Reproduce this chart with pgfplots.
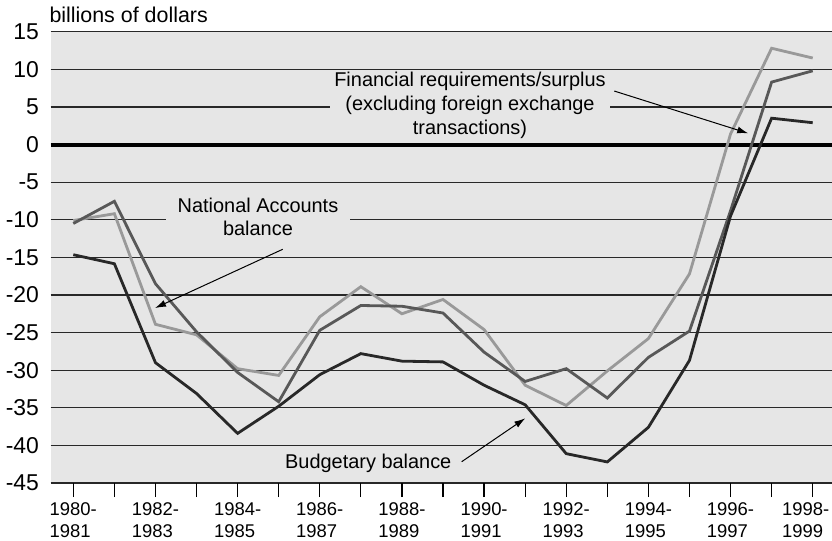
\documentclass[border=0pt]{standalone}
\usepackage{pgfplots}
\pgfplotsset{compat=1.18}
\usepackage{fontspec}
\setmainfont{Liberation Sans}
\usetikzlibrary{arrows.meta}
\definecolor{bg}{RGB}{230,230,230}
\definecolor{grd}{RGB}{40,40,40}
\definecolor{sLight}{RGB}{153,153,153}
\definecolor{sMed}{RGB}{88,88,88}
\definecolor{sDark}{RGB}{40,40,40}
\begin{document}
\begin{tikzpicture}
\begin{axis}[
  at={(50.5bp,58bp)}, anchor=south west,
  scale only axis, width=781.5bp, height=451.3bp,
  xmin=-0.555, xmax=18.47, ymin=-45, ymax=15,
  axis background/.style={fill=bg},
  axis line style={draw=none},
  xtick={0,...,17},
  xticklabels={{1980-\\1981},{},{1982-\\1983},{},{1984-\\1985},{},{1986-\\1987},{},{1988-\\1989},{},{1990-\\1991},{},{1992-\\1993},{},{1994-\\1995},{},{1996-\\1997},{}},
  extra x ticks={18},
  extra x tick labels={{1998-\\1999}},
  extra x tick style={xticklabel style={xshift=-7bp}},
  xtick pos=left,
  tick align=outside,
  major tick length=14bp,
  xtick style={black, line width=1.2bp},
  ytick={-45,-40,...,15},
  ytick style={draw=none},
  yticklabels={-45,-40,-35,-30,-25,-20,-15,-10,-5,0,5,10,15},
  ymajorgrids,
  grid style={grd, line width=1.2bp},
  extra y ticks={0}, extra y tick labels={},
  extra y tick style={grid style={black, line width=4bp}},
  xticklabel style={font=\fontsize{18.5}{21.3}\selectfont, align=left, yshift=-2.5bp},
  yticklabel style={font=\fontsize{23}{26}\selectfont, xshift=6bp},
]
\addplot[sLight, line width=2.8bp] coordinates {
(0,-10.1) (1,-9.2) (2,-23.9) (3,-25.3) (4,-29.8) (5,-30.7) (6,-22.9) (7,-18.9) (8,-22.5) (9,-20.6)
(10,-24.6) (11,-32.0) (12,-34.7) (13,-30.1) (14,-25.8) (15,-17.2) (16,1.4) (17,12.8) (18,11.5)};
\addplot[sMed, line width=2.8bp] coordinates {
(0,-10.5) (1,-7.55) (2,-18.5) (3,-24.9) (4,-30.3) (5,-34.2) (6,-24.7) (7,-21.4) (8,-21.5) (9,-22.4)
(10,-27.6) (11,-31.5) (12,-29.8) (13,-33.7) (14,-28.3) (15,-24.8) (16,-8.8) (17,8.3) (18,9.8)};
\addplot[sDark, line width=2.8bp] coordinates {
(0,-14.65) (1,-15.85) (2,-29.0) (3,-33.1) (4,-38.4) (5,-34.8) (6,-30.6) (7,-27.8) (8,-28.8) (9,-28.9)
(10,-32.0) (11,-34.6) (12,-41.1) (13,-42.2) (14,-37.6) (15,-28.7) (16,-9.5) (17,3.5) (18,2.9)};
\node[fill=bg, inner xsep=4.5bp, inner ysep=1bp, align=center, font=\fontsize{20}{23.8}\selectfont]
  at (axis cs:9.657,5.2) {Financial requirements/surplus\\(excluding foreign exchange\\transactions)};
\node[fill=bg, inner xsep=12bp, inner ysep=1bp, align=center, font=\fontsize{20}{23.3}\selectfont]
  at (axis cs:4.496,-9.6) {National Accounts\\balance};
\node[fill=bg, inner xsep=4bp, inner ysep=1bp, font=\fontsize{20}{24}\selectfont]
  at (axis cs:7.181,-42.4) {Budgetary balance};
\draw[-{Latex[length=11bp,width=7bp]}, line width=1bp] (axis cs:13.17,7.11) -- (axis cs:16.43,1.49);
\draw[-{Latex[length=11bp,width=7bp]}, line width=1bp] (axis cs:5.097,-13.93) -- (axis cs:1.989,-21.74);
\draw[-{Latex[length=11bp,width=7bp]}, line width=1bp] (axis cs:9.455,-42.17) -- (axis cs:11.003,-36.4);
\end{axis}
\node[anchor=base west, inner sep=0, font=\fontsize{21.5}{25}\selectfont] at (49.3bp,518.3bp) {billions of dollars};
\pgfresetboundingbox
\path (0,0) rectangle (832bp,541bp);
\end{tikzpicture}
\end{document}
